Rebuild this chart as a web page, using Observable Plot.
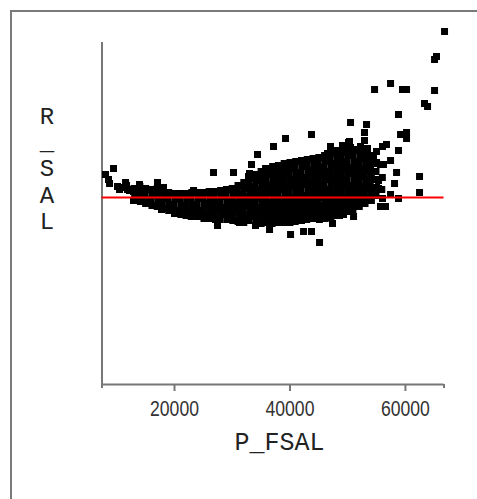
<!DOCTYPE html>
<html>
<head>
<meta charset="utf-8">
<script src="https://cdn.jsdelivr.net/npm/d3@7"></script>
<script src="https://cdn.jsdelivr.net/npm/@observablehq/plot@0.6"></script>
<style>
  html, body { margin: 0; padding: 0; background: #fff; overflow: hidden; }
  #wrap { position: relative; width: 477px; height: 499px; }
  #frame { position: absolute; left: 10px; top: 10px; width: 600px; height: 600px;
           border-top: 2px solid #7a7a7a; border-left: 2px solid #7a7a7a; pointer-events: none; }
  #chart { position: absolute; left: 0; top: 0; }
</style>
</head>
<body>
<div id="wrap"><div id="chart"></div><div id="frame"></div></div>
<script>
// Axis settings
const xDomain = [7443, 66677];
const yDomain = [-18700, 15500];
const xTicks = [20000, 40000, 60000];
const xLabel = "P_FSAL";
const yLabel = "R\n_\nS\nA\nL";

// Scattered points [P_FSAL, R_SAL]
const sparse = [
  [66770,16600],[65380,14100],[65040,13800],[57420,11400],[54650,10800],[59490,10800],[60190,10800],
  [65040,10700],[63300,9400],[63830,9100],[58800,8300],[50490,7500],[53260,7300],[43730,6300],
  [52910,6500],[59150,6300],[60190,6500],[60190,5900],[39230,5900],[52910,5700],[37150,5100],
  [47020,5100],[50140,5500],[49100,5200],[56720,5300],[56030,5100],[58800,4700],[53430,4900],
  [52220,5100],[34380,4300],[45990,4100],[48240,4700],[54990,4600],[54470,4100],[53950,3800],
  [54990,3500],[55680,3300],[56200,3300],[53950,3200],[57420,3700],[52570,4100],[53430,3900],
  [33340,3300],[9440,2900],[26760,2500],[30220,2500],[8050,2300],[58460,2500],[62440,2100],
  [58110,1400],[55340,1700],[55340,900],[54130,700],[62440,500],[57420,300],[58800,-100],
  [56030,-100],[55680,-900],[56550,-900],[46500,4400],[45810,4000],[50310,5600],[50490,5000],
  [49450,4500],[44430,3700],[32820,2100],[32990,2400],[34380,1900],[35770,2900],[35770,2400],
  [37330,2400],[38020,2000],[39230,3400],[39230,2900],[45120,-4500],[42350,-3400],[43730,-3400],
  [40100,-3700],[47370,-2600],[51010,-1900],[49280,-1700],[48760,-1500],[48580,-1800],[27450,-2800],
  [31260,-2500],[34030,-2800],[36460,-3200],[8570,1800],[8750,1400],[10130,1100],[10480,800],
  [11520,1500],[11690,1200],[13940,1300],[17060,1500],[18100,1000],[18100,600],[12900,600],
  [13250,400],[11860,800],[17750,-1200],[20700,-1400],[22430,-1600],[23300,700],[19310,300],
  [21220,300],[10830,1000],[12210,700]
];

// Dense cloud points [P_FSAL, R_SAL]
const cloud = [
  [13000,900],[13100,300],[12900,-300],
  [14000,1100],[14100,500],[13900,-100],[14100,-400],
  [15000,900],[14900,300],[15100,-200],[15000,-600],
  [16000,800],[16100,200],[15900,-300],[16100,-800],
  [17000,900],[16900,300],[17100,-300],[17000,-900],
  [18000,700],[18100,100],[17900,-500],[18100,-1100],
  [19000,500],[18900,-100],[19100,-700],[19000,-1300],
  [20000,400],[20100,-200],[19900,-800],[20100,-1300],[20000,-1600],
  [21000,400],[20900,-200],[21100,-800],[21000,-1300],[21100,-1700],
  [22000,400],[22100,-200],[21900,-800],[22100,-1400],[22000,-1800],
  [23000,500],[22900,-100],[23100,-700],[23000,-1300],[22900,-1900],
  [24000,500],[24100,-100],[23900,-700],[24100,-1300],[24000,-1900],
  [25000,500],[24900,-100],[25100,-700],[25000,-1300],[24900,-1900],[25100,-2100],
  [26000,600],[26100,0],[25900,-600],[26100,-1200],[26000,-1700],[25900,-2100],
  [27000,600],[26900,0],[27100,-600],[27000,-1200],[26900,-1800],[27100,-2200],
  [28000,700],[28100,100],[27900,-500],[28100,-1100],[28000,-1700],[27900,-2200],
  [29000,800],[28900,200],[29100,-400],[29000,-1000],[28900,-1600],[29100,-2200],
  [30000,900],[30100,300],[29900,-300],[30100,-900],[30000,-1500],[29900,-2100],[30100,-2300],
  [31000,1200],[30900,600],[31100,0],[31000,-600],[30900,-1200],[31100,-1800],[31000,-2400],
  [32000,1500],[32100,900],[31900,300],[32100,-300],[32000,-900],[31900,-1500],[32100,-2100],[32000,-2500],
  [33000,1900],[32900,1300],[33100,700],[33000,100],[32900,-500],[33100,-1100],[33000,-1700],[32900,-2300],
  [34000,2300],[34100,1700],[33900,1100],[34100,500],[34000,-100],[33900,-700],[34100,-1300],[34000,-1900],[34100,-2500],
  [35000,2600],[34900,2000],[35100,1400],[35000,800],[34900,200],[35100,-400],[35000,-1000],[34900,-1600],[35100,-2200],[35000,-2600],
  [36000,2900],[36100,2300],[35900,1700],[36100,1100],[36000,500],[35900,-100],[36100,-700],[36000,-1300],[36100,-1900],[35900,-2500],
  [37000,3100],[36900,2500],[37100,1900],[37000,1300],[36900,700],[37100,100],[37000,-500],[36900,-1100],[37100,-1700],[37000,-2300],[36900,-2600],
  [38000,3200],[38100,2600],[37900,2000],[38100,1400],[38000,800],[37900,200],[38100,-400],[38000,-1000],[38100,-1600],[37900,-2200],[38000,-2500],
  [39000,3400],[38900,2800],[39100,2200],[39000,1600],[38900,1000],[39100,400],[39000,-200],[38900,-800],[39100,-1400],[39000,-2000],[38900,-2500],
  [40000,3500],[40100,2900],[39900,2300],[40100,1700],[40000,1100],[39900,500],[40100,-100],[40000,-700],[40100,-1300],[39900,-1900],[40000,-2500],
  [41000,3600],[40900,3000],[41100,2400],[41000,1800],[40900,1200],[41100,600],[41000,0],[40900,-600],[41100,-1200],[41000,-1800],[40900,-2400],
  [42000,3700],[42100,3100],[41900,2500],[42100,1900],[42000,1300],[41900,700],[42100,100],[42000,-500],[42100,-1100],[41900,-1700],[42000,-2300],
  [43000,3800],[42900,3200],[43100,2600],[43000,2000],[42900,1400],[43100,800],[43000,200],[42900,-400],[43100,-1000],[43000,-1600],[42900,-2200],
  [44000,3900],[44100,3300],[43900,2700],[44100,2100],[44000,1500],[43900,900],[44100,300],[44000,-300],[44100,-900],[43900,-1500],[44000,-2100],
  [45000,4000],[44900,3400],[45100,2800],[45000,2200],[44900,1600],[45100,1000],[45000,400],[44900,-200],[45100,-800],[45000,-1400],[44900,-2000],[45100,-2200],
  [46000,4200],[46100,3600],[45900,3000],[46100,2400],[46000,1800],[45900,1200],[46100,600],[46000,0],[46100,-600],[45900,-1200],[46000,-1800],[46100,-2100],
  [47000,4400],[46900,3800],[47100,3200],[47000,2600],[46900,2000],[47100,1400],[47000,800],[46900,200],[47100,-400],[47000,-1000],[46900,-1600],[47100,-2000],
  [48000,4600],[48100,4000],[47900,3400],[48100,2800],[48000,2200],[47900,1600],[48100,1000],[48000,400],[48100,-200],[47900,-800],[48000,-1400],[48100,-1800],
  [49000,4700],[48900,4100],[49100,3500],[49000,2900],[48900,2300],[49100,1700],[49000,1100],[48900,500],[49100,-100],[49000,-700],[48900,-1300],[49100,-1600],
  [50000,4800],[50100,4200],[49900,3600],[50100,3000],[50000,2400],[49900,1800],[50100,1200],[50000,600],[50100,0],[49900,-600],[50000,-1100],[50100,-1400],
  [51000,4800],[50900,4200],[51100,3600],[51000,3000],[50900,2400],[51100,1800],[51000,1200],[50900,600],[51100,0],[51000,-600],[50900,-1200],
  [52000,4700],[52100,4100],[51900,3500],[52100,2900],[52000,2300],[51900,1700],[52100,1100],[52000,500],[52100,-100],[51900,-700],[52000,-900],
  [53000,4500],[52900,3900],[53100,3300],[53000,2700],[52900,2100],[53100,1500],[53000,900],[52900,300],[53100,-300],[53000,-600],
  [54000,4200],[54100,3600],[53900,3000],[54100,2400],[54000,1800],[53900,1200],[54100,600],[54000,0],[54100,-300],
  [55000,3400],[54900,2600],[55100,1800],[55000,1000],[54900,200],
  [56000,2000],[55900,800]
];

const data = [...sparse, ...cloud].map(([x, y]) => ({P_FSAL: x, R_SAL: y}));

const chart = Plot.plot({
  width: 477,
  height: 499,
  marginLeft: 101.5,
  marginRight: 33.5,
  marginTop: 42,
  marginBottom: 115,
  x: {domain: xDomain},
  y: {domain: yDomain, axis: null},
  marks: [
    Plot.ruleX([xDomain[0]], {stroke: "#777", strokeWidth: 2}),
    Plot.ruleY([yDomain[0]], {stroke: "#777", strokeWidth: 2}),
    Plot.axisX({ticks: xTicks, tickSize: 7, tickPadding: 9, tickFormat: d => String(d), label: null,
                stroke: "#777", strokeWidth: 2, fill: "#333", fontSize: 22, fontFamily: "Liberation Sans"}),
    Plot.axisX({ticks: xDomain, tickSize: 4, tickFormat: () => "", label: null, stroke: "#777", strokeWidth: 2}),
    Plot.dot(data, {x: "P_FSAL", y: "R_SAL", symbol: "square", r: 3.95, fill: "black"}),
    Plot.ruleY([0], {stroke: "red", strokeWidth: 2}),
    Plot.text([xLabel], {frameAnchor: "bottom", lineAnchor: "bottom", dx: 6.5, dy: 65, fontSize: 25, fill: "#222",
               fontFamily: "Liberation Mono"}),
    Plot.text([yLabel], {frameAnchor: "top-left", textAnchor: "middle", lineAnchor: "top", dx: -55, dy: 62.3,
               lineHeight: 1.1, fontSize: 24, fill: "#222", fontFamily: "Liberation Mono"})
  ]
});
// Condense the tick numbers horizontally (narrow face in the original)
chart.querySelectorAll("text").forEach(t => {
  if (/^\d+$/.test(t.textContent.trim())) {
    const tr = t.getAttribute("transform") || "";
    t.setAttribute("transform", tr + " scale(0.8,1)");
  }
});
document.getElementById("chart").appendChild(chart);
</script>
</body>
</html>
